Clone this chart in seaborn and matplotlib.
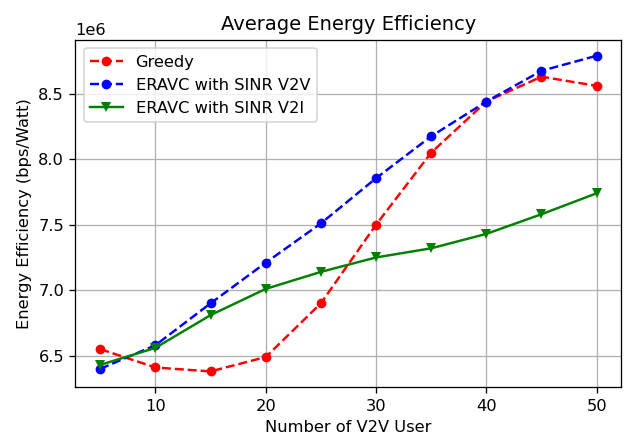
#!/usr/bin/env python3

'''
Eficiencia energetica promedio vs numero de usuarios V2V.
'''

import matplotlib
matplotlib.use('Agg')
import matplotlib.pyplot as plt
import seaborn as sns
import pandas as pd

usuarios = [5, 10, 15, 20, 25, 30, 35, 40, 45, 50]
greedy = [6.55e6, 6.41e6, 6.38e6, 6.49e6, 6.90e6, 7.50e6, 8.05e6, 8.44e6, 8.63e6, 8.56e6]
sinr_v2v = [6.40e6, 6.58e6, 6.90e6, 7.21e6, 7.51e6, 7.855e6, 8.175e6, 8.44e6, 8.675e6, 8.79e6]
sinr_v2i = [6.43e6, 6.56e6, 6.81e6, 7.01e6, 7.14e6, 7.25e6, 7.32e6, 7.43e6, 7.58e6, 7.74e6]

df = pd.DataFrame({'usuarios': usuarios, 'greedy': greedy,
                   'v2v': sinr_v2v, 'v2i': sinr_v2i})

DPI = 117
fig = plt.figure(figsize=(629 / DPI, 439 / DPI), dpi=DPI)
ax = fig.add_subplot(111)

sns.lineplot(data=df, x='usuarios', y='greedy', ax=ax, color='r', linestyle='--',
             marker='o', markersize=6, markeredgewidth=0, label='Greedy')
sns.lineplot(data=df, x='usuarios', y='v2v', ax=ax, color='b', linestyle='--',
             marker='o', markersize=6, markeredgewidth=0, label='ERAVC with SINR V2V')
sns.lineplot(data=df, x='usuarios', y='v2i', ax=ax, color='g', linestyle='-',
             marker='v', markersize=6, markeredgewidth=0, label='ERAVC with SINR V2I')

ax.set_title('Average Energy Efficiency')
ax.set_xlabel('Number of V2V User')
ax.set_ylabel('Energy Efficiency (bps/Watt)')
ax.set_xticks([10, 20, 30, 40, 50])
ax.grid(True)
ax.legend(loc='upper left')

fig.subplots_adjust(left=0.12, right=0.988, top=0.909, bottom=0.118)
fig.savefig('out.png', dpi=DPI)
